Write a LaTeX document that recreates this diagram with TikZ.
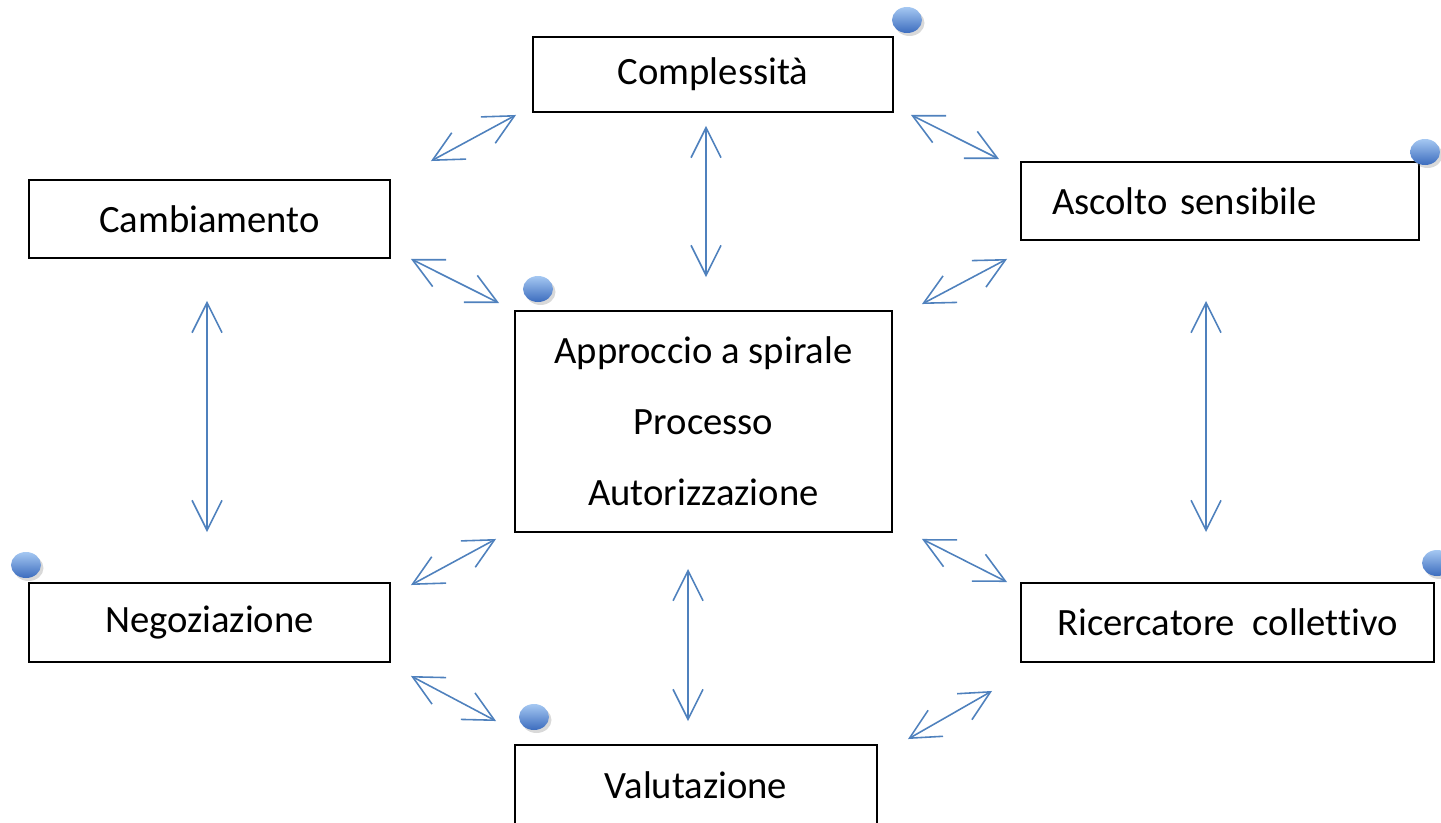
\documentclass[tikz,border=0pt]{standalone}
\usepackage{fontspec}
\setmainfont[Ligatures={NoCommon}]{Carlito}
\usetikzlibrary{arrows.meta,shadows,shapes.geometric}
\definecolor{linkblue}{RGB}{79,129,189}
\definecolor{dotlight}{RGB}{165,200,242}
\definecolor{dotdark}{RGB}{60,108,190}

\begin{document}
\begin{tikzpicture}[
    box/.style={draw,line width=1.1pt,minimum height=1.56cm,font=\fontsize{22}{26}\selectfont},
    link/.style={linkblue,line width=0.9pt,>={Straight Barb[length=6mm,width=6mm]},<->},
    dot/.style={ellipse,minimum width=0.6cm,minimum height=0.52cm,inner sep=0pt,top color=dotlight,bottom color=dotdark,
        drop shadow={opacity=0.3,shadow xshift=0.05cm,shadow yshift=-0.06cm}}]
    \useasboundingbox (0,0) rectangle (28.82,16.44);
    \node[box,minimum width=7.2cm,minimum height=1.5cm] (cmp) at (14.26,14.95) {Complessità};
    \node[box,minimum width=7.22cm] (cam) at (4.19,12.06) {Cambiamento};
    \node[box,text width=6.72cm,inner xsep=0.62cm,align=left] (asc) at (24.4,12.42) {Ascolto sensibile};
    \node[box,minimum width=7.54cm,minimum height=4.42cm,align=center,font=\fontsize{22}{40.3}\selectfont] (ctr) at (14.07,8.01) {Approccio a spirale\\Processo\\Autorizzazione};
    \node[box,minimum width=7.22cm,minimum height=1.58cm] (neg) at (4.19,3.99) {Negoziazione};
    \node[box,minimum width=8.26cm,minimum height=1.58cm] (rcc) at (24.55,3.99) {Ricercatore\ \ collettivo};
    \node[box,minimum width=7.24cm,minimum height=1.6cm] (val) at (13.92,0.74) {Valutazione};
    \draw[link] ([shift={(-0.32,-0.04)}]cmp.south west) -- ([shift={(0.8,0.36)}]cam.north east);
    \draw[link] ([shift={(0.34,-0.04)}]cmp.south east) -- ([shift={(-0.42,0.04)}]asc.north west);
    \draw[link] ([shift={(-0.14,-0.26)}]cmp.south) -- ([shift={(0.05,0.66)}]ctr.north);
    \draw[link] ([shift={(0.4,0)}]cam.south east) -- ([shift={(-0.3,0.14)}]ctr.north west);
    \draw[link] ([shift={(-0.26,-0.36)}]asc.south west) -- ([shift={(0.58,0.12)}]ctr.north east);
    \draw[link] ([shift={(-0.05,-0.84)}]cam.south) -- ([shift={(-0.05,1.0)}]neg.north);
    \draw[link] ([shift={(-0.28,-1.2)}]asc.south) -- ([shift={(-0.43,1.0)}]rcc.north);
    \draw[link] ([shift={(-0.36,-0.12)}]ctr.south west) -- ([shift={(0.4,-0.06)}]neg.north east);
    \draw[link] ([shift={(0.58,-0.12)}]ctr.south east) -- ([shift={(-0.26,0)}]rcc.north west);
    \draw[link] ([shift={(-0.31,-0.72)}]ctr.south) -- ([shift={(-0.16,0.46)}]val.north);
    \draw[link] ([shift={(0.4,-0.26)}]neg.south east) -- ([shift={(-0.36,0.46)}]val.north west);
    \draw[link] ([shift={(-0.56,-0.56)}]rcc.south west) -- ([shift={(0.6,0.1)}]val.north east);
    \node[dot] (d1) at (18.14,16.04) {};
    \node[dot] (d2) at (28.5,13.4) {};
    \node[dot] (d3) at (10.76,10.66) {};
    \node[dot] (d4) at (0.52,5.14) {};
    \node[dot] (d5) at (28.74,5.18) {};
    \node[dot] (d6) at (10.68,2.1) {};
\end{tikzpicture}
\end{document}
